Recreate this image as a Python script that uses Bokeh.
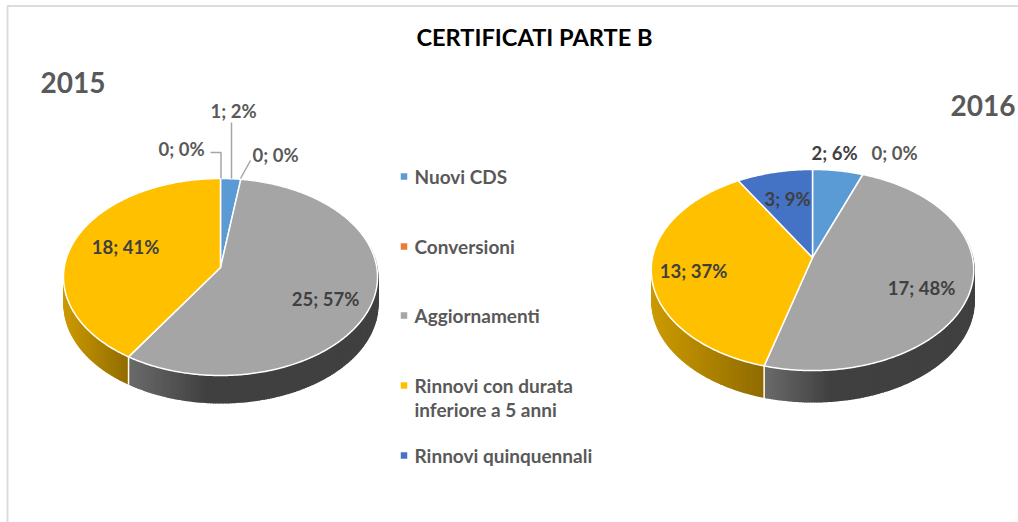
import math
from bokeh.plotting import figure
from bokeh.models import Range1d, ColumnDataSource
from bokeh.core.properties import value
from bokeh.embed import file_html
from bokeh.resources import INLINE

TITLE = "CERTIFICATI PARTE B"
CATEGORIES = ["Nuovi CDS", "Conversioni", "Aggiornamenti", "Rinnovi con durata\ninferiore a 5 anni", "Rinnovi quinquennali"]
COLORS = ["#5B9BD5", "#ED7D31", "#A5A5A5", "#FFC000", "#4472C4"]
WALL_LEFT = [None, None, "#6a6a6a", "#cc9a00", None]
WALL_RIGHT = [None, None, "#404040", "#8f6b00", None]
VALUES_2015 = [1, 0, 25, 18, 0]
VALUES_2016 = [2, 0, 17, 13, 3]
PCT_2015 = [2, 0, 57, 41, 0]
PCT_2016 = [6, 0, 48, 37, 9]

W, H = 1018, 522
p = figure(width=W, height=H, output_backend="svg", toolbar_location=None,
           x_range=Range1d(0, W), y_range=Range1d(H, 0),
           min_border=0, outline_line_color=None, background_fill_color="white", border_fill_color="white")
p.axis.visible = False
p.grid.visible = False

# frame of the picture
FRAME = "#dcdcdc"
p.line([7, 7, 1018], [522, 5.5, 5.5], line_color=FRAME, line_width=2)


def hex_mix(a, b, t):
    ca = [int(a[i:i + 2], 16) for i in (1, 3, 5)]
    cb = [int(b[i:i + 2], 16) for i in (1, 3, 5)]
    return "#%02x%02x%02x" % tuple(round(x + (y - x) * t) for x, y in zip(ca, cb))


def pie(values, cx, cy, R, B, k, depth):
    def pt(th):
        X, Y = math.sin(th), -math.cos(th)
        d = 1 - k * Y
        return cx + R * X / d, cy + B * Y / d

    total = sum(values)
    starts, a = [], 0.0
    for v in values:
        starts.append(a)
        a += v / total * 2 * math.pi
    starts.append(2 * math.pi)

    # side wall, painted as overlapping strips from right to left
    xs, ys, cs = [], [], []
    for i, v in enumerate(values):
        if v == 0 or WALL_LEFT[i] is None:
            continue
        a0, a1 = starts[i], starts[i + 1]
        lo, hi = max(a0, math.radians(75)), min(a1, math.radians(285))
        if hi <= lo:
            continue
        n = 160
        vis_left = min(pt(lo + (hi - lo) * j / n)[0] for j in range(n + 1))
        vis_right = max(pt(lo + (hi - lo) * j / n)[0] for j in range(n + 1))
        for j in range(n):
            t0 = lo + (hi - lo) * j / n
            t1 = lo + (hi - lo) * (j + 1) / n
            (x0, y0), (x1, y1) = pt(t0), pt(t1)
            f = ((x0 + x1) / 2 - vis_left) / max(vis_right - vis_left, 1)
            if i == 2:
                f = min(1.0, f * 3.2)
            xs.append([x0 + 1.0, x1, x1, x0 + 1.0])
            ys.append([y0, y1, y1 + depth, y0 + depth])
            cs.append(hex_mix(WALL_LEFT[i], WALL_RIGHT[i], f))
    p.patches(xs="xs", ys="ys", fill_color="c", line_color=None,
              source=ColumnDataSource(dict(xs=xs, ys=ys, c=cs)))

    # seams on the wall
    for i, v in enumerate(values):
        if v == 0:
            continue
        a0 = starts[i]
        if math.radians(90) < a0 < math.radians(270):
            x0, y0 = pt(a0)
            p.line([x0, x0], [y0, y0 + depth], line_color="white", line_width=1.5)

    # top faces
    for i, v in enumerate(values):
        if v == 0:
            continue
        a0, a1 = starts[i], starts[i + 1]
        n = max(3, int((a1 - a0) / 0.01))
        pts = [pt(a0 + (a1 - a0) * j / n) for j in range(n + 1)]
        px = [cx] + [q[0] for q in pts]
        py = [cy] + [q[1] for q in pts]
        p.patch(px, py, fill_color=COLORS[i], line_color="white", line_width=1.5, line_join="round")


pie(VALUES_2015, 220, 267, 156.3, 97.6, 0.0964, 28)
pie(VALUES_2016, 812, 257, 160, 99, 0.1245, 32)

LABEL = "#404040"
FONT = value("Lato")


def label(x, y, v, pct, color=LABEL):
    p.text([x], [y], text=[f"{v}; {pct}%"], text_font=FONT, text_font_size="18.5px", text_font_style="bold",
           text_color=color, text_align="center", text_baseline="middle")


# 2015 labels: categories 0, 1, 2, 3, 4
label(233, 110, VALUES_2015[0], PCT_2015[0], "#595959")
label(275, 154, VALUES_2015[1], PCT_2015[1], "#595959")
label(325, 298, VALUES_2015[2], PCT_2015[2])
label(125, 246, VALUES_2015[3], PCT_2015[3])
label(181, 148, VALUES_2015[4], PCT_2015[4], "#595959")

# 2016 labels
label(834, 152, VALUES_2016[0], PCT_2016[0])
label(894, 152, VALUES_2016[1], PCT_2016[1], "#595959")
label(921, 287, VALUES_2016[2], PCT_2016[2])
label(693, 270, VALUES_2016[3], PCT_2016[3])
label(787, 198, VALUES_2016[4], PCT_2016[4])

# leader lines for the 2015 pie
LEAD = "#a6a6a6"
p.line([231, 231], [122, 178], line_color=LEAD, line_width=1.5)
p.line([210, 220.5, 220.5], [152, 152, 178], line_color=LEAD, line_width=1.5)
p.line([240, 250], [178, 160], line_color=LEAD, line_width=1.5)

# title and years
p.text([534], [36], text=[TITLE], text_font=FONT, text_font_size="23.6px", text_font_style="bold",
       text_color="black", text_align="center", text_baseline="middle")
p.text([40], [82], text=["2015"], text_font=FONT, text_font_size="28px", text_font_style="bold",
       text_color="#595959", text_align="left", text_baseline="middle")
p.text([1015], [105], text=["2016"], text_font=FONT, text_font_size="28px", text_font_style="bold",
       text_color="#595959", text_align="right", text_baseline="middle")

# legend
LEG_Y = [176, 246, 315, 385, 455]
p.rect([403.5] * 5, LEG_Y, width=6.5, height=6.5, fill_color=COLORS, line_color=None)
for name, y in zip(CATEGORIES, LEG_Y):
    for j, line in enumerate(name.split("\n")):
        p.text([414], [y + j * 24], text=[line], text_font=FONT, text_font_size="19px", text_font_style="bold",
               text_color="#595959", text_align="left", text_baseline="middle")

open("out.html", "w").write(file_html(p, INLINE))
